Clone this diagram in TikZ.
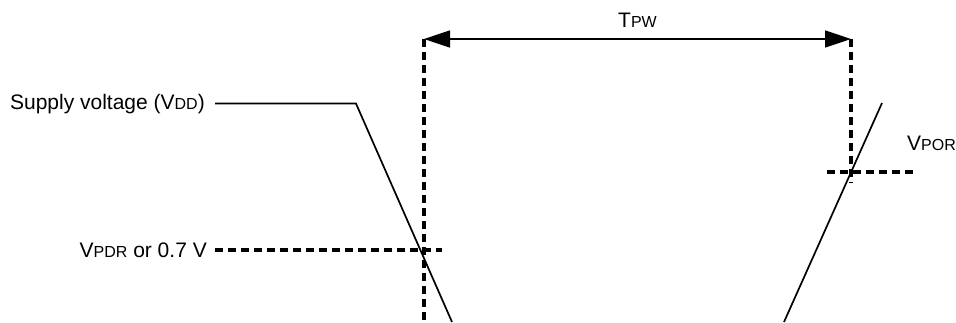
\documentclass[tikz,border=0pt]{standalone}
\usepackage{fontspec}
\setmainfont{Liberation Sans}
\usetikzlibrary{arrows.meta, positioning}
\newcommand{\sml}[1]{{\fontsize{16}{16}\selectfont #1}}

\begin{document}
\begin{tikzpicture}[x=1pt, y=-1pt, font=\fontsize{21}{25}\selectfont,
	signal/.style={line width=1.7pt},
	guide/.style={line width=3.6pt, dash pattern=on 8pt off 5pt},
	lbl/.style={inner sep=0pt},
	tip/.style={{Triangle[length=26pt,width=17pt]}-{Triangle[length=26pt,width=17pt]}}]

	\useasboundingbox (0,0) rectangle (956,322);

	\node[lbl, anchor=base east] (vdd) at (205,109) {Supply voltage (V\sml{DD})};
	\node[lbl, anchor=base east] (vpdr) at (207,257) {V\sml{PDR} or 0.7 V};
	\node[lbl, anchor=base west] (vpor) at (907,150) {V\sml{POR}};

	\coordinate (tl) at (424,39);
	\coordinate (tr) at (851,39);
	\coordinate (fallend) at (452,322);
	\coordinate (riseb) at (784,322);
	\coordinate (riset) at (882,103);
	\path (vdd.east) ++(151,0) coordinate (knee);

	% supply voltage
	\draw[signal] (vdd.east) ++(10,0) -- (knee) -- (fallend);
	\draw[signal] (riseb) -- (riset);

	% thresholds
	\draw[guide] (vpdr.east) ++(8,0) -- ++(227,0);
	\draw[guide] (827,172) -- (916,172);

	% pulse width
	\draw[guide] (tl) -- (424,322);
	\draw[guide] (tr) -- (851,183);
	\draw[signal, tip] (tl) -- node[lbl, above=11pt] (tpw) {T\sml{PW}} (tr);
\end{tikzpicture}
\end{document}
